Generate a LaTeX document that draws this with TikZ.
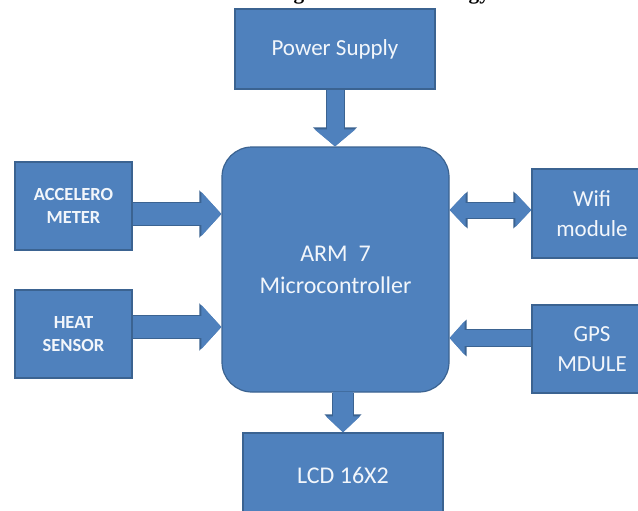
\documentclass[tikz,border=0pt]{standalone}
\usepackage{fontspec}
\setmainfont{Carlito}
\newfontfamily\titleFont{Liberation Serif}
\usetikzlibrary{arrows.meta}
\definecolor{boxBlue}{HTML}{4F81BD}
\definecolor{boxEdge}{HTML}{3B6391}
\definecolor{boxText}{HTML}{F2F6FB}
\newcommand\boxColor{boxBlue}
\newcommand\edgeColor{boxEdge}
\newcommand\edgeLineWidth{1.2pt}
\newcommand\armRadius{30pt}

\tikzset{
    blockbox/.style={draw=\edgeColor, line width=\edgeLineWidth, fill=\boxColor, text=boxText, align=center, shape=rectangle, inner sep=0pt, anchor=center},
    arrowedge/.style={draw=\edgeColor, fill=\edgeColor},
    arrowfill/.style={draw=\boxColor, fill=\boxColor}
}

\begin{document}
\begin{tikzpicture}[x=1pt, y=-1pt]

    \useasboundingbox (0,0) rectangle (638,511);
    \clip (0,0) rectangle (638,511);

    \node (title) [anchor=base west, inner sep=0pt, font=\titleFont\bfseries\fontsize{21.3}{24}\selectfont] at (204,-0.5) {Block Diagram of Methodology};

    \node (power) [blockbox, minimum width=200pt, minimum height=80pt, font=\fontsize{23}{28}\selectfont] at (335,49) {Power Supply};
    \node (arm) [blockbox, rounded corners=\armRadius, minimum width=227pt, minimum height=245pt, font=\fontsize{24}{32}\selectfont] at (335.5,269.5) {ARM\ \ 7\\Microcontroller};
    \node (accel) [blockbox, minimum width=117pt, minimum height=88pt, font=\bfseries\fontsize{18.5}{23}\selectfont] at (73.5,206) {ACCELERO\\METER};
    \node (heat) [blockbox, minimum width=117pt, minimum height=88pt, font=\bfseries\fontsize{18.5}{23}\selectfont] at (73.5,334) {HEAT\\SENSOR};
    \node (wifi) [blockbox, minimum width=120pt, minimum height=89pt, font=\fontsize{23}{30}\selectfont] at (592,213.5) {Wifi\\module};
    \node (gps) [blockbox, minimum width=120pt, minimum height=88pt, font=\fontsize{23}{30}\selectfont] at (592,349) {GPS\\MDULE};
    \node (lcd) [blockbox, minimum width=200pt, minimum height=85pt, font=\fontsize{24}{28}\selectfont] at (343,475.5) {LCD 16X2};

%Arrows, edge first
    \draw [arrowedge, line width=19pt, -{Triangle[width=43pt, length=19pt]}] (power.south) -- (power.south |- arm.north);
    \draw [arrowedge, line width=24pt, -{Triangle[width=46pt, length=22pt]}] ([yshift=-8pt]accel.east) -- ([yshift=-8pt]accel.east -| arm.west);
    \draw [arrowedge, line width=24pt, -{Triangle[width=46pt, length=22pt]}] ([yshift=7pt]heat.east) -- ([yshift=7pt]heat.east -| arm.west);
    \draw [arrowedge, line width=17pt, {Triangle[width=36pt, length=18pt]}-{Triangle[width=36pt, length=18pt]}] ([yshift=3.5pt]wifi.west -| arm.east) -- ([yshift=3.5pt]wifi.west);
    \draw [arrowedge, line width=18pt, -{Triangle[width=36pt, length=17pt]}] ([yshift=11pt]gps.west) -- ([yshift=11pt]gps.west -| arm.east);
    \draw [arrowedge, line width=22pt, -{Triangle[width=36pt, length=18pt]}] (arm.south -| lcd.north) -- (lcd.north);

%Arrows, fill
    \draw [arrowfill, line width=17pt, -{Triangle[width=40pt, length=17pt]}] ([yshift=-0.6pt]power.south) -- (power.south |- arm.north);
    \draw [arrowfill, line width=22pt, -{Triangle[width=43pt, length=20pt]}] ([yshift=-8pt, xshift=0.6pt]accel.east) -- ([yshift=-8pt]accel.east -| arm.west);
    \draw [arrowfill, line width=22pt, -{Triangle[width=43pt, length=20pt]}] ([yshift=7pt, xshift=0.6pt]heat.east) -- ([yshift=7pt]heat.east -| arm.west);
    \draw [arrowfill, line width=15pt, {Triangle[width=33pt, length=16pt]}-{Triangle[width=33pt, length=16pt]}] ([yshift=3.5pt]wifi.west -| arm.east) -- ([yshift=3.5pt]wifi.west);
    \draw [arrowfill, line width=16pt, -{Triangle[width=33pt, length=15pt]}] ([yshift=11pt, xshift=-0.6pt]gps.west) -- ([yshift=11pt]gps.west -| arm.east);
    \draw [arrowfill, line width=20pt, -{Triangle[width=33pt, length=16pt]}] ([yshift=0.6pt]arm.south -| lcd.north) -- (lcd.north);

\end{tikzpicture}
\end{document}
